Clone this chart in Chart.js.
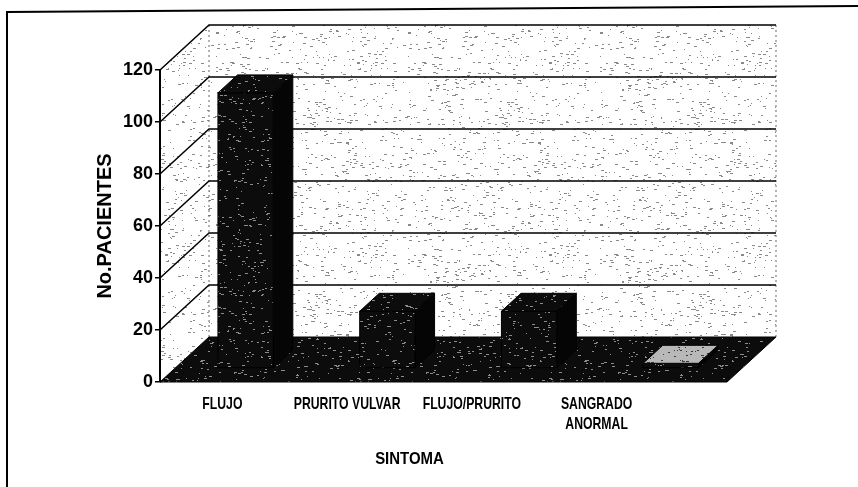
<!DOCTYPE html>
<html>
<head>
<meta charset="utf-8">
<script src="https://cdn.jsdelivr.net/npm/chart.js@4.4.1/dist/chart.umd.min.js"></script>
<style>
    html, body { margin: 0; padding: 0; background: #fff; }
    #wrap { width: 858px; height: 487px; }
</style>
</head>
<body>
<div id="wrap"><canvas id="sintomaChart"></canvas></div>
<script>
const sintomas = [['FLUJO'], ['PRURITO VULVAR'], ['FLUJO/PRURITO'], ['SANGRADO', 'ANORMAL']];
const pacientes = [106, 22, 22, 2];
const yTicks = [0, 20, 40, 60, 80, 100, 120];
const yTitle = 'No.PACIENTES';
const xTitle = 'SINTOMA';

// fake 3d: how far the back wall sits from the front plane
const DEPTH_X = 49;
const DEPTH_Y = -45;
const BAR_FRONT = 0.3;
const BAR_BACK = 0.7;
const LABEL_SHRINK = 0.88;
const NARROW = 0.72;
const topTex = ['dark', 'dark', 'dark', 'mid'];

// speckled texture like the scanned print
function speckle(bg, fg, count, seed) {
    const size = 192;
    const c = document.createElement('canvas');
    c.width = size;
    c.height = size;
    const g = c.getContext('2d');
    g.fillStyle = bg;
    g.fillRect(0, 0, size, size);
    let s = seed;
    const next = () => { s = (s * 16807) % 2147483647; return s / 2147483647; };
    g.fillStyle = fg;
    for (let i = 0; i < count; i++) {
        const x = Math.floor(next() * size);
        const y = Math.floor(next() * size);
        const len = 1 + Math.floor(next() * 3);
        g.fillRect(x, y, len, 1);
    }
    return c;
}
const textures = {
    light: speckle('#ffffff', '#8a8a8a', 800, 1234),
    dark: speckle('#0c0c0c', '#8c8c8c', 800, 4321),
    mid: speckle('#b8b8b8', '#3a3a3a', 1200, 777)
};
let patterns;

function poly(ctx, pts) {
    ctx.beginPath();
    ctx.moveTo(pts[0][0], pts[0][1]);
    for (let i = 1; i < pts.length; i++) ctx.lineTo(pts[i][0], pts[i][1]);
    ctx.closePath();
}

function squeezed(ctx, text, x, y, k) {
    ctx.save();
    ctx.translate(x, y);
    ctx.scale(k, 1);
    ctx.fillText(text, 0, 0);
    ctx.restore();
}

const box3d = {
    id: 'box3d',
    beforeDatasetsDraw(chart) {
        const ctx = chart.ctx;
        const a = chart.chartArea;
        const y = chart.scales.y;
        if (!patterns) {
            patterns = {};
            for (const k in textures) patterns[k] = ctx.createPattern(textures[k], 'repeat');
        }
        ctx.save();
        // left side wall
        ctx.fillStyle = patterns.light;
        poly(ctx, [[a.left, a.top], [a.left + DEPTH_X, a.top + DEPTH_Y], [a.left + DEPTH_X, a.bottom + DEPTH_Y], [a.left, a.bottom]]);
        ctx.fill();
        // back wall
        ctx.fillRect(a.left + DEPTH_X, a.top + DEPTH_Y, a.right - a.left, a.bottom - a.top);

        // wall edges
        ctx.setLineDash([2, 3]);
        ctx.strokeStyle = '#666';
        ctx.lineWidth = 1;
        ctx.beginPath();
        ctx.moveTo(a.left + DEPTH_X, a.top + DEPTH_Y);
        ctx.lineTo(a.left + DEPTH_X, a.bottom + DEPTH_Y);
        ctx.moveTo(a.right + DEPTH_X, a.top + DEPTH_Y);
        ctx.lineTo(a.right + DEPTH_X, a.bottom + DEPTH_Y);
        ctx.stroke();
        ctx.setLineDash([]);

        // grid lines, bent over the side wall
        ctx.strokeStyle = '#000';
        ctx.lineWidth = 1.5;
        yTicks.forEach(v => {
            if (v === 0) return;
            const py = y.getPixelForValue(v);
            ctx.beginPath();
            ctx.moveTo(a.left, py);
            ctx.lineTo(a.left + DEPTH_X, py + DEPTH_Y);
            ctx.lineTo(a.right + DEPTH_X, py + DEPTH_Y);
            ctx.stroke();
        });

        // floor
        ctx.fillStyle = patterns.dark;
        poly(ctx, [[a.left, a.bottom], [a.right, a.bottom], [a.right + DEPTH_X, a.bottom + DEPTH_Y], [a.left + DEPTH_X, a.bottom + DEPTH_Y]]);
        ctx.fill();
        ctx.strokeStyle = '#000';
        ctx.lineWidth = 1;
        ctx.stroke();

        // front value axis again on top of the wall
        ctx.lineWidth = 2;
        ctx.beginPath();
        ctx.moveTo(a.left, a.top);
        ctx.lineTo(a.left, a.bottom);
        ctx.stroke();
        ctx.restore();
    },
    afterDatasetsDraw(chart) {
        const ctx = chart.ctx;
        const meta = chart.getDatasetMeta(0);
        const fx = DEPTH_X * BAR_FRONT, fy = DEPTH_Y * BAR_FRONT;
        const dx = DEPTH_X * (BAR_BACK - BAR_FRONT), dy = DEPTH_Y * (BAR_BACK - BAR_FRONT);
        ctx.save();
        ctx.strokeStyle = '#000';
        ctx.lineWidth = 1;
        meta.data.forEach((bar, i) => {
            const p = bar.getProps(['x', 'y', 'base', 'width'], true);
            const x0 = p.x - p.width / 2 + fx;
            const x1 = x0 + p.width;
            const yt = p.y + fy;
            const yb = p.base + fy;
            // right side
            ctx.fillStyle = '#050505';
            poly(ctx, [[x1, yt], [x1 + dx, yt + dy], [x1 + dx, yb + dy], [x1, yb]]);
            ctx.fill();
            ctx.stroke();
            // front
            ctx.fillStyle = patterns.dark;
            ctx.fillRect(x0, yt, p.width, yb - yt);
            ctx.strokeRect(x0, yt, p.width, yb - yt);
            // top
            ctx.fillStyle = patterns[topTex[i]];
            poly(ctx, [[x0, yt], [x1, yt], [x1 + dx, yt + dy], [x0 + dx, yt + dy]]);
            ctx.fill();
            ctx.stroke();
        });
        ctx.restore();
    },
    afterDraw(chart) {
        const ctx = chart.ctx;
        const a = chart.chartArea;
        const x = chart.scales.x;
        ctx.save();
        ctx.fillStyle = '#000';
        ctx.textAlign = 'center';
        ctx.textBaseline = 'middle';
        // no narrow font installed, squeeze it by hand
        ctx.font = 'bold 17px "Liberation Sans", Arial, sans-serif';
        sintomas.forEach((lines, i) => {
            const lx = a.left + (x.getPixelForValue(i) - a.left) * LABEL_SHRINK;
            lines.forEach((t, j) => squeezed(ctx, t, lx, a.bottom + 22 + j * 20, NARROW));
        });
        squeezed(ctx, xTitle, a.left + (a.right - a.left) * LABEL_SHRINK / 2, a.bottom + 77, 0.88);

        // scan frame, only top and left survived
        ctx.strokeStyle = '#000';
        ctx.lineWidth = 2;
        ctx.beginPath();
        ctx.moveTo(7, 487);
        ctx.lineTo(7, 12);
        ctx.lineTo(858, 6);
        ctx.stroke();
        ctx.restore();
    }
};

new Chart(document.getElementById('sintomaChart'), {
    type: 'bar',
    data: {
        labels: sintomas,
        datasets: [{
            data: pacientes,
            backgroundColor: 'rgba(0,0,0,0)',
            borderWidth: 0,
            barPercentage: 0.39,
            categoryPercentage: 1
        }]
    },
    options: {
        responsive: true,
        maintainAspectRatio: false,
        animation: false,
        layout: {
            padding: { left: 92, right: 131, top: 70, bottom: 105 }
        },
        plugins: {
            legend: { display: false },
            tooltip: { enabled: false }
        },
        scales: {
            x: {
                display: false,
                offset: true
            },
            y: {
                min: 0,
                max: 120,
                afterBuildTicks: scale => {
                    scale.ticks = yTicks.map(v => ({ value: v }));
                },
                afterFit: scale => {
                    scale.width = 68;
                },
                ticks: {
                    color: '#000',
                    padding: 2,
                    font: { family: '"Liberation Sans", Arial, sans-serif', size: 18, weight: 'bold' }
                },
                grid: {
                    drawOnChartArea: false,
                    drawTicks: true,
                    tickLength: 5,
                    color: '#000',
                    lineWidth: 1.5
                },
                border: { display: true, color: '#000', width: 2 },
                title: {
                    display: true,
                    text: yTitle,
                    color: '#000',
                    padding: { top: 1, bottom: 0 },
                    font: { family: '"Liberation Sans", Arial, sans-serif', size: 20, weight: 'bold' }
                }
            }
        }
    },
    plugins: [box3d]
});
</script>
</body>
</html>
